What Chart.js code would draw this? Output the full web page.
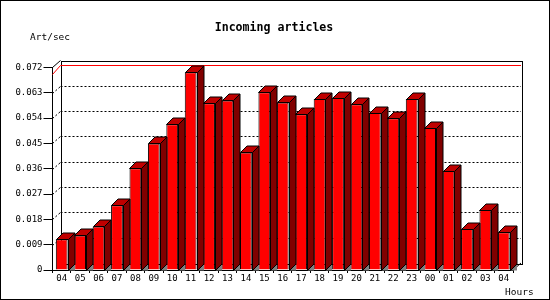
<!DOCTYPE html>
<html>
<head>
<meta charset="utf-8">
<script src="https://cdn.jsdelivr.net/npm/chart.js@4/dist/chart.umd.min.js"></script>
<style>
    body { margin: 0; background: #fff; }
    canvas { display: block; }
</style>
</head>
<body>
<canvas id="chart" width="550" height="300"></canvas>
<script>
// Incoming articles per hour
const hours = ['04', '05', '06', '07', '08', '09', '10', '11', '12', '13', '14', '15', '16',
               '17', '18', '19', '20', '21', '22', '23', '00', '01', '02', '03', '04'];
const artPerSec = [0.0109, 0.0123, 0.0155, 0.0230, 0.0362, 0.0450, 0.0518, 0.0703, 0.0593,
                   0.0603, 0.0418, 0.0632, 0.0596, 0.0554, 0.0608, 0.0612, 0.0589, 0.0558,
                   0.0540, 0.0608, 0.0505, 0.0352, 0.0146, 0.0213, 0.0134];
const yMax = 0.072;
const yStep = 0.009;

const titleText = 'Incoming articles';
const yUnitText = 'Art/sec';
const xUnitText = 'Hours';

const MONO = '"DejaVu Sans Mono", "Liberation Mono", monospace';

// wall / bar depth
const WALL_DX = 8, WALL_DY = 7;
const BAR_DX = 6.5, BAR_DY = 6.5;

const box3d = {
    id: 'box3d',
    beforeDatasetsDraw(chart) {
        const ctx = chart.ctx;
        const a = chart.chartArea;
        const y = chart.scales.y;
        const L = a.left, R = a.right, T = a.top, B = a.bottom;
        ctx.save();

        // dotted grid on back wall + left wall
        ctx.strokeStyle = '#000';
        ctx.lineWidth = 1;
        ctx.setLineDash([2, 2]);
        y.ticks.forEach(t => {
            if (t.value <= 0 || t.value >= yMax - 1e-9) return;
            const py = Math.round(y.getPixelForValue(t.value)) + 0.5;
            ctx.beginPath();
            ctx.moveTo(L + WALL_DX, py - WALL_DY);
            ctx.lineTo(R + WALL_DX, py - WALL_DY);
            ctx.stroke();
            ctx.beginPath();
            ctx.moveTo(L, py);
            ctx.lineTo(L + WALL_DX, py - WALL_DY);
            ctx.stroke();
        });
        ctx.setLineDash([]);

        // back wall frame
        ctx.strokeRect(Math.round(L + WALL_DX) + 0.5, Math.round(T - WALL_DY) + 0.5,
                       Math.round(R - L), Math.round(B - T));
        ctx.beginPath();
        ctx.moveTo(L, T);
        ctx.lineTo(L + WALL_DX, T - WALL_DY);
        ctx.moveTo(R, B);
        ctx.lineTo(R + WALL_DX, B - WALL_DY);
        ctx.stroke();

        // max line
        const maxVal = Math.max(...artPerSec);
        const my = Math.round(y.getPixelForValue(maxVal)) + 0.5;
        ctx.strokeStyle = '#ff0000';
        ctx.beginPath();
        ctx.moveTo(L + WALL_DX, my - WALL_DY);
        ctx.lineTo(R + WALL_DX, my - WALL_DY);
        ctx.moveTo(L, my + 2);
        ctx.lineTo(L + WALL_DX, my - WALL_DY);
        ctx.stroke();
        ctx.restore();
    },
    afterDatasetsDraw(chart) {
        const ctx = chart.ctx;
        const meta = chart.getDatasetMeta(0);
        ctx.save();
        ctx.strokeStyle = '#000';
        ctx.lineWidth = 1;
        meta.data.forEach(bar => {
            const p = bar.getProps(['x', 'y', 'base', 'width'], true);
            const x0 = Math.round(p.x - p.width / 2) + 0.5;
            const x1 = Math.round(p.x + p.width / 2) + 0.5;
            const top = Math.round(p.y) + 0.5;
            const base = Math.round(p.base) + 0.5;
            // shadow on the floor
            ctx.fillStyle = '#808080';
            ctx.beginPath();
            ctx.moveTo(x1, base);
            ctx.lineTo(x1 + BAR_DX, base - BAR_DY);
            ctx.lineTo(x1 + BAR_DX, base);
            ctx.closePath();
            ctx.fill();
            // side
            ctx.fillStyle = '#800000';
            ctx.beginPath();
            ctx.moveTo(x1, top);
            ctx.lineTo(x1 + BAR_DX, top - BAR_DY);
            ctx.lineTo(x1 + BAR_DX, base - BAR_DY);
            ctx.lineTo(x1, base);
            ctx.closePath();
            ctx.fill();
            ctx.stroke();
            // top
            ctx.fillStyle = '#c00000';
            ctx.beginPath();
            ctx.moveTo(x0, top);
            ctx.lineTo(x0 + BAR_DX, top - BAR_DY);
            ctx.lineTo(x1 + BAR_DX, top - BAR_DY);
            ctx.lineTo(x1, top);
            ctx.closePath();
            ctx.fill();
            ctx.stroke();
        });
        ctx.restore();
    },
    afterDraw(chart) {
        const ctx = chart.ctx;
        ctx.save();
        ctx.fillStyle = '#000';
        ctx.textBaseline = 'middle';
        ctx.font = 'bold 11.6px ' + MONO;
        ctx.textAlign = 'center';
        ctx.fillText(titleText, 274, 28);
        ctx.font = '9.5px ' + MONO;
        ctx.textAlign = 'left';
        ctx.fillText(yUnitText, 30, 37.5);
        ctx.fillText(xUnitText, 505, 292.5);
        // outer frame
        ctx.strokeStyle = '#000';
        ctx.lineWidth = 1;
        ctx.strokeRect(0.5, 0.5, 549, 299);
        ctx.restore();
    }
};

new Chart(document.getElementById('chart'), {
    type: 'bar',
    data: {
        labels: hours,
        datasets: [{
            data: artPerSec,
            backgroundColor: '#ff0000',
            borderColor: '#000',
            borderWidth: 1,
            barPercentage: 0.64,
            categoryPercentage: 1
        }]
    },
    options: {
        responsive: false,
        animation: false,
        devicePixelRatio: 1,
        layout: { padding: { top: 67.5, right: 37, bottom: 0, left: 0 } },
        plugins: {
            legend: { display: false },
            tooltip: { enabled: false },
            title: { display: false }
        },
        scales: {
            x: {
                grid: { offset: true, drawOnChartArea: false, tickLength: 3, color: '#000' },
                border: { display: true, color: '#000' },
                ticks: { color: '#000', font: { family: MONO, size: 9 }, padding: 0, maxRotation: 0, autoSkip: false },
                afterFit(scale) { scale.height = 30; }
            },
            y: {
                min: 0,
                max: yMax,
                grid: { drawOnChartArea: false, tickLength: 9, color: '#000' },
                border: { display: true, color: '#000' },
                ticks: {
                    stepSize: yStep,
                    color: '#000',
                    font: { family: MONO, size: 9 },
                    padding: 1,
                    callback: v => v === 0 ? '0' : v.toFixed(3)
                },
                afterFit(scale) { scale.width = 52.5; }
            }
        }
    },
    plugins: [box3d]
});
</script>
</body>
</html>
